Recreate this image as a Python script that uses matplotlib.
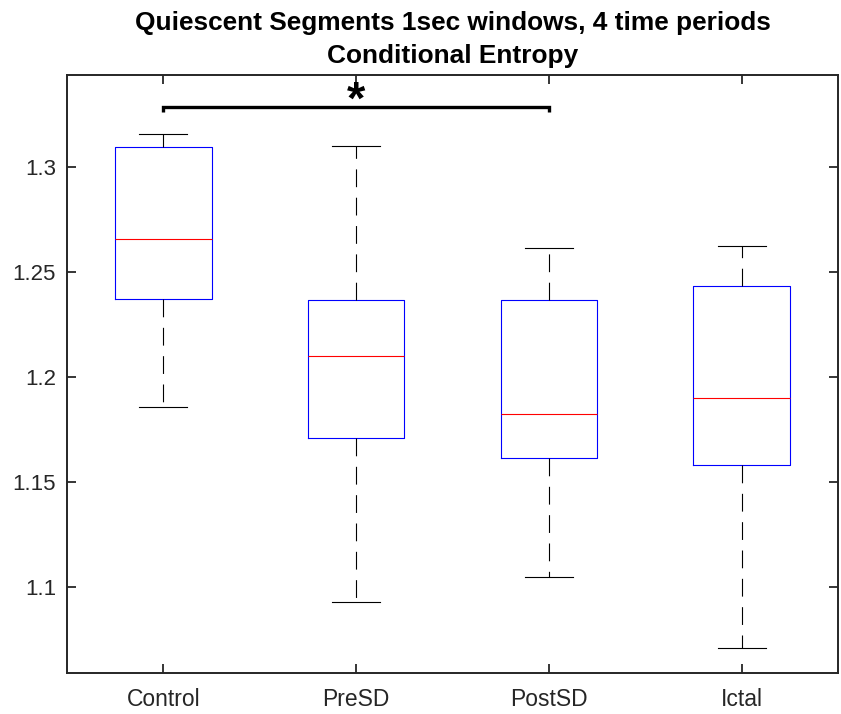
import matplotlib
matplotlib.use("Agg")
import matplotlib.pyplot as plt

# -----------------------
# Data
# -----------------------
groups = ["Control", "PreSD", "PostSD", "Ictal"]
whisker_low = [1.1856, 1.0929, 1.1046, 1.0710]
q1 = [1.2370, 1.1708, 1.1613, 1.1580]
medians = [1.2654, 1.2099, 1.1822, 1.1899]
q3 = [1.3092, 1.2365, 1.2365, 1.2432]
whisker_high = [1.3156, 1.3099, 1.2614, 1.2622]

sig_pair = (1, 3)
sig_y = 1.3284
y_ticks = [1.1, 1.15, 1.2, 1.25, 1.3]
y_tick_labels = ["1.1", "1.15", "1.2", "1.25", "1.3"]

plt.rcParams['font.family'] = ['Liberation Sans', 'DejaVu Sans']

stats = []
for i, g in enumerate(groups):
    stats.append({
        "label": g,
        "whislo": whisker_low[i],
        "q1": q1[i],
        "med": medians[i],
        "q3": q3[i],
        "whishi": whisker_high[i],
        "fliers": [],
    })

fig = plt.figure(figsize=(8.41, 7.14), dpi=100)
ax = fig.add_axes([67 / 841, 1 - 673 / 714, 771 / 841, 598 / 714])

ax.bxp(
    stats,
    positions=range(1, len(groups) + 1),
    widths=0.5,
    showfliers=False,
    boxprops=dict(color="blue", linewidth=0.8),
    medianprops=dict(color="red", linewidth=0.8),
    whiskerprops=dict(color="black", linewidth=0.8, linestyle=(0, (16, 9.5))),
    capprops=dict(color="black", linewidth=0.8),
    capwidths=0.25,
)

# significance bracket
x1, x2 = sig_pair
ax.plot([x1, x1, x2, x2], [sig_y - 0.0022, sig_y, sig_y, sig_y - 0.0022],
        color="black", linewidth=2.4, solid_capstyle="butt", solid_joinstyle="miter")
ax.text((x1 + x2) / 2, sig_y - 0.0031, "*", ha="center", va="baseline",
        fontsize=34, fontweight="bold")

ax.set_xlim(0.5, 4.5)
ax.set_ylim(1.0589, 1.3437)
ax.set_yticks(y_ticks)
ax.set_yticklabels(y_tick_labels)
ax.set_xticks(range(1, len(groups) + 1))
ax.set_xticklabels(groups)

ax.tick_params(direction="in", top=True, right=True, length=6.5, width=1.3,
               labelsize=16, colors="#262626")
ax.tick_params(axis="x", labelsize=16.5, pad=11)
ax.tick_params(axis="y", pad=8)
for s in ax.spines.values():
    s.set_color("#262626")
    s.set_linewidth(1.4)

ax.set_title("Quiescent Segments 1sec windows, 4 time periods\nConditional Entropy",
             fontsize=18.9, fontweight="bold", linespacing=1.45, pad=9)

fig.savefig("out.png", dpi=100, facecolor="white")
